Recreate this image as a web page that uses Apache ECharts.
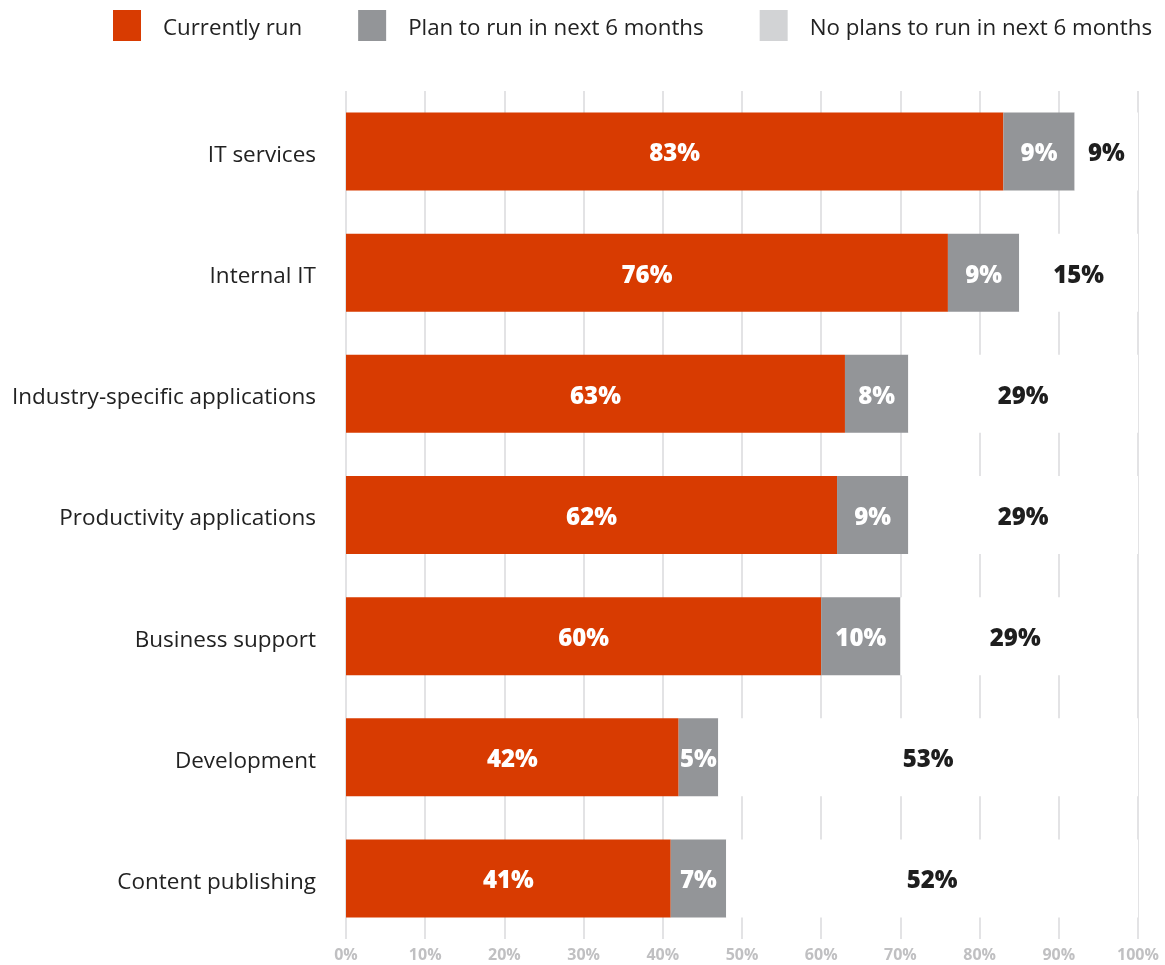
<!DOCTYPE html>
<html><head><meta charset="utf-8">
<script src="https://cdn.jsdelivr.net/npm/echarts@6/dist/echarts.min.js"></script>
<style>html,body{margin:0;padding:0;background:#fff}#c{width:1165px;height:965px}</style>
</head><body><div id="c"></div>
<script>
const categories = ['IT services','Internal IT','Industry-specific applications','Productivity applications','Business support','Development','Content publishing'];
const currentlyRun = [83,76,63,62,60,42,41];
const planToRun = [9,9,8,9,10,5,7];
const noPlans = [9,15,29,29,29,53,52];
const seriesNames = ['Currently run','Plan to run in next 6 months','No plans to run in next 6 months'];
const xTicks = [0,10,20,30,40,50,60,70,80,90,100];

const FONT = '"Open Sans", "Noto Sans", sans-serif';
const chart = echarts.init(document.getElementById('c'), null, {renderer:'canvas'});
const lab = (color) => ({show:true, position:'inside', offset:[0,3], formatter:'{c}%', color:color, fontFamily:FONT, fontWeight:800, fontSize:24});
chart.setOption({
  animation:false,
  legend:{
    left:113, top:10, padding:0, itemWidth:28, itemHeight:31, itemGap:56, icon:'rect',
    formatter: name => '{a|' + name + '}',
    textStyle:{fontFamily:FONT, fontSize:22.3, color:'#222', padding:[0,0,0,17],
      rich:{a:{fontFamily:FONT, fontSize:22.3, color:'#222', lineHeight:29, verticalAlign:'bottom'}}},
    data:[
      {name:seriesNames[0], itemStyle:{color:'#D83B01'}},
      {name:seriesNames[1], itemStyle:{color:'#939598'}},
      {name:seriesNames[2], itemStyle:{color:'#D2D3D5'}}
    ]
  },
  grid:{left:346, right:27, top:91, bottom:26, containLabel:false},
  xAxis:{
    type:'value', min:0, max:100, interval:10,
    axisLine:{show:false}, axisTick:{show:false},
    splitLine:{show:true, lineStyle:{color:'#E3E3E5', width:2}},
    axisLabel:{formatter:'{value}%', color:'#C0C0C2', fontFamily:FONT, fontWeight:'bold', fontSize:16, margin:8}
  },
  yAxis:{
    type:'category', data:categories, inverse:true,
    axisLine:{show:false}, axisTick:{show:false},
    axisLabel:{color:'#222', fontFamily:FONT, fontSize:22.5, margin:30,
      formatter: v => '{a|' + v + '}',
      rich:{a:{fontFamily:FONT, fontSize:22.5, color:'#222', lineHeight:31, verticalAlign:'bottom'}}}
  },
  series:[
    {name:seriesNames[0], type:'bar', stack:'s', data:currentlyRun, barWidth:78, itemStyle:{color:'#D83B01'}, label:lab('#fff')},
    {name:seriesNames[1], type:'bar', stack:'s', data:planToRun, barWidth:78, itemStyle:{color:'#939598'}, label:lab('#fff')},
    {name:seriesNames[2], type:'bar', stack:'s', data:noPlans, barWidth:78, itemStyle:{color:'#fff'}, label:lab('#1E1E1E')}
  ]
});
</script></body></html>
